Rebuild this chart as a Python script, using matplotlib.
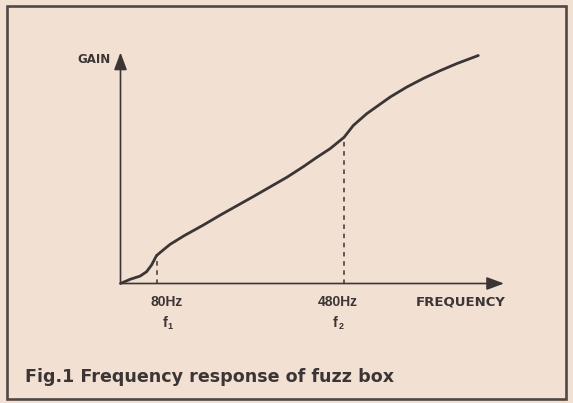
import matplotlib.pyplot as plt
from matplotlib.patches import Rectangle

# curve (frequency axis and gain axis both on a 0..100 scale)
freq = [0, 2.5, 5.1, 6.8, 8.1, 9.4, 11.2, 12.9, 16.5, 21.6, 26.0, 30.3, 34.7, 39.0,
        43.4, 47.7, 51.0, 54.6, 58.3, 60.7, 64.2, 70.3, 74.6, 79.0, 83.3, 87.7, 93.3]
gain = [0, 1.8, 3.2, 5.1, 8.0, 12.1, 14.6, 16.9, 20.6, 25.3, 29.6, 33.6, 37.7, 41.8,
        46.0, 50.6, 54.4, 58.3, 63.3, 68.4, 73.5, 80.7, 85.0, 88.8, 92.1, 95.2, 98.7]

marker_freq = [9.6, 58.2]
marker_gain = [12.0, 63.3]
marker_hz = ["80Hz", "480Hz"]
marker_sub = ["1", "2"]
label_shift = [2.5, -1.6]   # labels sit a little off the dashed lines

bg = "#f2e0d3"
ink = "#3b3535"
font = "Liberation Sans"
wide = "DejaVu Sans"

fig = plt.figure(figsize=(5.73, 4.03), dpi=100, facecolor=bg)

# frame round the figure
fig.patches.append(Rectangle((0.0115, 0.009), 0.976, 0.976, transform=fig.transFigure,
                             fill=False, edgecolor="#4f4846", linewidth=1.9))

ax = fig.add_axes([120.5 / 573, 1 - 283.5 / 403, 383.5 / 573, 231 / 403])
ax.set_xlim(0, 100)
ax.set_ylim(0, 100)
ax.axis("off")

# axes with arrow heads
arrow = dict(arrowstyle="-|>,head_length=0.75,head_width=0.28", color=ink,
             linewidth=1.2, shrinkA=0, shrinkB=0, mutation_scale=14)
ax.annotate("", xy=(100, 0), xytext=(0, 0), arrowprops=arrow, annotation_clip=False)
ax.annotate("", xy=(0, 100), xytext=(0, 0), arrowprops=arrow, annotation_clip=False)

ax.plot(freq, gain, color=ink, linewidth=2.0, solid_capstyle="round",
        solid_joinstyle="round", clip_on=False)

for f, g, hz, sub, dx in zip(marker_freq, marker_gain, marker_hz, marker_sub, label_shift):
    ax.plot([f, f], [0, g], color=ink, linewidth=1.1, linestyle=(0, (3, 3)))
    ax.text(f + dx, -8.0, hz, ha="center", va="center", fontsize=10, fontweight="bold",
            family=font, color=ink)
    ax.text(f + dx - 0.5, -17.3, "f", ha="center", va="center", fontsize=10.5,
            fontweight="bold", family=font, color=ink)
    ax.text(f + dx + 0.9, -18.4, sub, ha="center", va="center", fontsize=6.5,
            fontweight="bold", family=font, color=ink)

ax.text(100.5, -8.0, "FREQUENCY", ha="right", va="center", fontsize=9.5,
        fontweight="bold", family=wide, color=ink)
ax.text(-2.5, 97.0, "GAIN", ha="right", va="center", fontsize=8.5,
        fontweight="bold", family=wide, color=ink)

fig.text(25 / 573, 1 - 377 / 403, "Fig.1 Frequency response of fuzz box",
         ha="left", va="center", fontsize=12.6, fontweight="bold", family=wide, color=ink)

fig.savefig("out.png", dpi=100, facecolor=bg)
